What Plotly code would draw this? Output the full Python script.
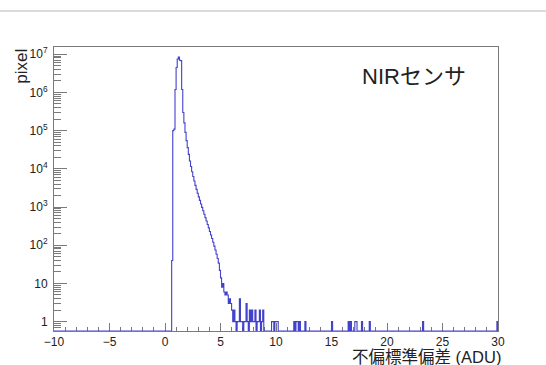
import numpy as np
import plotly.graph_objects as go

# Histogram binning (ADU): 400 bins of 0.1 between -10 and 30
X_MIN, X_MAX, N_BINS = -10.0, 30.0, 400

# Main distribution: counts for consecutive 0.1-ADU bins starting at 0.6
core_start = 0.6
core_counts = [
    40,        # 0.6
    1.0e5,     # 0.7
    1.1e5,     # 0.8
    1.2e6,     # 0.9
    4.5e6,     # 1.0
    7.5e6,     # 1.1
    8.4e6,     # 1.2
    7.0e6,     # 1.3
    6.8e6,     # 1.4
    1.2e6,     # 1.5
    3.0e5,     # 1.6
    1.6e5,     # 1.7
    9.0e4,     # 1.8
    5.5e4,     # 1.9
    3.6e4,     # 2.0
    2.4e4,     # 2.1
    1.6e4,     # 2.2
    1.15e4,    # 2.3
    8400,      # 2.4
    6300,      # 2.5
    4800,      # 2.6
    3700,      # 2.7
    2900,      # 2.8
    2300,      # 2.9
    1850,      # 3.0
    1500,      # 3.1
    1200,      # 3.2
    980,       # 3.3
    800,       # 3.4
    650,       # 3.5
    530,       # 3.6
    430,       # 3.7
    350,       # 3.8
    285,       # 3.9
    230,       # 4.0
    185,       # 4.1
    150,       # 4.2
    120,       # 4.3
    95,        # 4.4
    75,        # 4.5
    58,        # 4.6
    45,        # 4.7
    34,        # 4.8
    22,        # 4.9
    14,        # 5.0
    8,         # 5.1
    10,        # 5.2
    6,         # 5.3
    5,         # 5.4
    6,         # 5.5
    5,         # 5.6
    3,         # 5.7
    4,         # 5.8
    3,         # 5.9
    2,         # 6.0
    1,         # 6.1
    2,         # 6.2
    1,         # 6.3
    0,         # 6.4
    1,         # 6.5
    1,         # 6.6
    4,         # 6.7
    1,         # 6.8
    1,         # 6.9
    0,         # 7.0
    1,         # 7.1
    1,         # 7.2
    3,         # 7.3
    1,         # 7.4
    0,         # 7.5
    2,         # 7.6
    1,         # 7.7
    2,         # 7.8
    1,         # 7.9
    1,         # 8.0
    2,         # 8.1
    0,         # 8.2
    1,         # 8.3
    1,         # 8.4
    2,         # 8.5
    0,         # 8.6
    1,         # 8.7
    2,         # 8.8
]

# Isolated pixels in the far tail (bin low edge, count)
tail_bins = [9.6, 9.7, 9.9, 10.0, 10.1, 11.6, 11.8, 11.9, 12.1, 12.6,
             15.0, 16.5, 16.7, 17.1, 17.2, 17.7, 18.4, 23.2, 29.9]
tail_counts = [1, 1, 1, 1, 1, 1, 1, 1, 1, 1,
               1, 1, 1, 1, 1, 1, 1, 1, 1]

# Axis labels
y_tickvals = [1, 10, 1e2, 1e3, 1e4, 1e5, 1e6, 1e7]
y_ticktext = ["1", "10", "10<sup>2</sup>", "10<sup>3</sup>", "10<sup>4</sup>",
              "10<sup>5</sup>", "10<sup>6</sup>", "10<sup>7</sup>"]
x_tickvals = [-10, -5, 0, 5, 10, 15, 20, 25, 30]
x_ticktext = ["−10", "−5", "0", "5", "10", "15", "20", "25", "30"]
x_title = "不偏標準偏差 (ADU)"
y_title = "pixel"
label_text = "NIRセンサ"

Y_LO, Y_HI = 0.57, 1.55e7

# ---- fill the histogram ----
edges = np.round(np.linspace(X_MIN, X_MAX, N_BINS + 1), 6)
width = (X_MAX - X_MIN) / N_BINS
counts = np.zeros(N_BINS)
for i, c in enumerate(core_counts):
    counts[int(round((core_start + i * width - X_MIN) / width))] = c
for lo, c in zip(tail_bins, tail_counts):
    counts[int(round((lo - X_MIN) / width))] = c

# empty bins sit on the bottom of the log frame
drawn = np.where(counts > 0, counts, Y_LO)
step_x = np.concatenate([edges, [X_MAX]])
step_y = np.concatenate([drawn, [drawn[-1], Y_LO]])

LINE = "rgb(66,66,205)"
FRAME = "#7a7a7a"
FONT = "Liberation Sans, Noto Sans CJK JP, sans-serif"

fig = go.Figure(go.Scatter(
    x=step_x, y=step_y, mode="lines",
    line=dict(color=LINE, width=1.1, shape="hv"),
    hoverinfo="skip", showlegend=False,
))

minor_y = [k * 10 ** n for n in range(-1, 7) for k in range(2, 10)
           if Y_LO <= k * 10 ** n <= Y_HI]

fig.update_xaxes(
    range=[X_MIN, X_MAX], showgrid=False, zeroline=False,
    showline=True, linecolor=FRAME, linewidth=1, mirror=True,
    layer="below traces",
    tickmode="array", tickvals=x_tickvals, ticktext=x_ticktext,
    ticks="inside", ticklen=8, tickcolor=FRAME, tickwidth=1,
    minor=dict(tickmode="array", tickvals=list(range(-10, 31)),
               ticks="inside", ticklen=4, tickcolor=FRAME),
    tickfont=dict(family=FONT, size=12, color="#222"),
    ticklabelstandoff=0,
)
fig.update_yaxes(
    type="log", range=[np.log10(Y_LO), np.log10(Y_HI)],
    showgrid=False, zeroline=False,
    showline=True, linecolor=FRAME, linewidth=1, mirror=True,
    layer="below traces",
    tickmode="array", tickvals=y_tickvals, ticktext=y_ticktext,
    ticks="inside", ticklen=13, tickcolor=FRAME, tickwidth=1,
    minor=dict(tickmode="array", tickvals=minor_y,
               ticks="inside", ticklen=7, tickcolor=FRAME),
    tickfont=dict(family=FONT, size=12, color="#222"),
    ticklabelstandoff=3,
)

# plot area: x 54..498 px, y 47..331 px
fig.update_layout(
    width=546, height=365,
    margin=dict(l=54, r=48, t=47, b=34),
    paper_bgcolor="white", plot_bgcolor="white",
    annotations=[
        dict(text=x_title, xref="paper", yref="paper", x=1.012, y=-0.091,
             xanchor="right", yanchor="middle", showarrow=False,
             font=dict(family=FONT, size=16.5, color="#222")),
        dict(text=y_title, xref="paper", yref="paper", x=-0.074, y=1.0,
             xanchor="center", yanchor="top", textangle=-90, showarrow=False,
             font=dict(family=FONT, size=17, color="#222")),
        dict(text=label_text, xref="paper", yref="paper", x=0.689, y=0.895,
             xanchor="left", yanchor="middle", showarrow=False,
             font=dict(family=FONT, size=22, color="#222")),
    ],
    shapes=[
        dict(type="line", xref="paper", yref="paper",
             x0=-0.13, x1=1.12, y0=1.127, y1=1.127,
             line=dict(color="#cfcfcf", width=1.5)),
    ],
)

fig.write_html("out.html")
